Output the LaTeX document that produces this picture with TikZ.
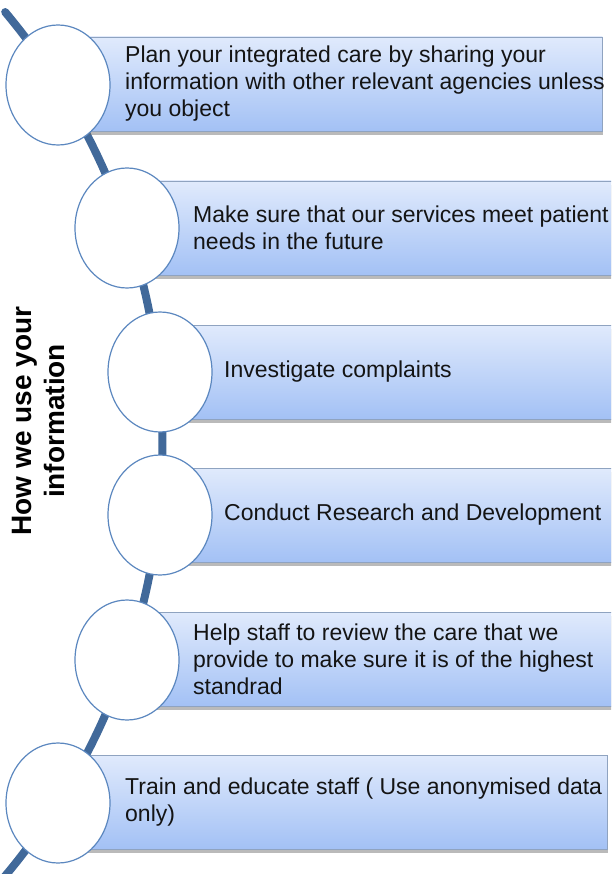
\documentclass[tikz,border=0pt]{standalone}
\usepackage{fontspec}
\setmainfont{Liberation Sans}
\usetikzlibrary{shapes.geometric,shadows}
\definecolor{arcblue}{HTML}{41699A}
\definecolor{ringblue}{HTML}{5B87BF}
\definecolor{bartop}{HTML}{E0EAFC}
\definecolor{barbot}{HTML}{A3C1F5}
\definecolor{baredge}{HTML}{8FA3C0}
\definecolor{txt}{HTML}{141414}
\tikzset{
 ring/.style={ellipse, draw=ringblue, line width=1.2pt, fill=white, minimum width=104pt, minimum height=120pt, inner sep=0pt},
 barbox/.style={draw=baredge, line width=0.6pt, top color=bartop, bottom color=barbot, minimum height=94pt, inner sep=0pt, anchor=west,
   drop shadow={shadow xshift=1pt, shadow yshift=-4pt, opacity=0.45, fill=black!60}},
 bartext/.style={anchor=west, align=left, text=txt, font=\fontsize{23}{27}\selectfont, inner sep=0pt},
 spine/.style={draw=arcblue, line width=8pt, line cap=round}
}
\begin{document}
\begin{tikzpicture}[x=1pt,y=-1pt]
\useasboundingbox (0,0) rectangle (611,874);
\clip (0,0) rectangle (611,874);
% spine arc
\draw[spine] plot[domain=-40:41, samples=90] ({-509.6+672*cos(\x)},{444+672*sin(\x)});
% bars
\node[barbox, minimum width=544pt] (b1) at (58,84) {};
\node[barbox, minimum width=520pt] (b2) at (127,228) {};
\node[barbox, minimum width=490pt] (b3) at (160,372) {};
\node[barbox, minimum width=490pt] (b4) at (160,515) {};
\node[barbox, minimum width=520pt] (b5) at (127,659) {};
\node[barbox, minimum width=549pt] (b6) at (58,802) {};
% circles
\node[ring] (c1) at (58,85) {};
\node[ring] (c2) at (127,228) {};
\node[ring] (c3) at (160,372) {};
\node[ring] (c4) at (160,515) {};
\node[ring] (c5) at (127,660) {};
\node[ring] (c6) at (58,803) {};
% texts
\node[bartext] (t1) at (125,84) {Plan your integrated care by sharing your\\information with other relevant agencies unless\\you object};
\node[bartext] (t2) at (193,228) {Make sure that our services meet patient\\needs in the future};
\node[bartext] (t3) at (224,372) {Investigate complaints};
\node[bartext] (t4) at (224,515) {Conduct Research and Development};
\node[bartext] (t5) at (193,659) {Help staff to review the care that we\\provide to make sure it is of the highest\\standrad};
\node[bartext] (t6) at (125,802) {Train and educate staff ( Use anonymised data\\only)};
% heading
\node[rotate=90, align=center, inner sep=0pt, text=black, font=\bfseries\fontsize{28}{33}\selectfont] (title) at (39,421) {How we use your\\information};
\end{tikzpicture}
\end{document}
